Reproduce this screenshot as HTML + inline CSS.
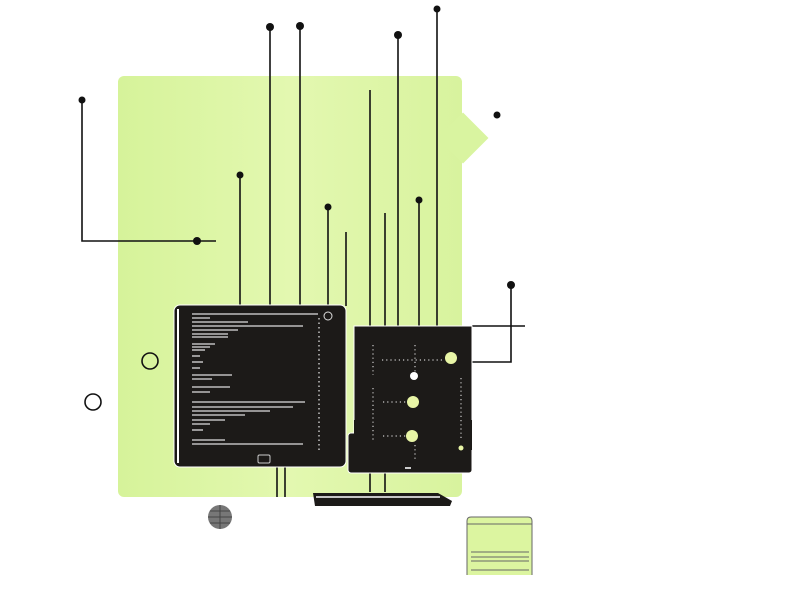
<!DOCTYPE html>
<html><head><style>body{margin:0;background:#fff}svg{display:block}</style></head><body>
<svg width="800" height="600" viewBox="0 0 800 600" xmlns="http://www.w3.org/2000/svg">
<defs><linearGradient id="g" x1="0" x2="1"><stop offset="0" stop-color="#d6f39a"/><stop offset="0.5" stop-color="#e3f8b0"/><stop offset="1" stop-color="#d8f39e"/></linearGradient></defs>
<rect x="118" y="76" width="344" height="421" rx="6" fill="url(#g)"/>
<rect x="445" y="120" width="36" height="36" fill="#d9f4a0" transform="rotate(45 463 138)"/>
<g stroke="#111" stroke-width="1.6" fill="none">
<line x1="270" y1="27" x2="270" y2="306"/>
<line x1="300" y1="26" x2="300" y2="306"/>
<line x1="398" y1="35" x2="398" y2="326"/>
<line x1="437" y1="9" x2="437" y2="326"/>
<line x1="240" y1="175" x2="240" y2="306"/>
<line x1="328" y1="207" x2="328" y2="306"/>
<line x1="370" y1="90" x2="370" y2="492"/>
<line x1="346" y1="232" x2="346" y2="306"/>
<line x1="385" y1="213" x2="385" y2="492"/>
<line x1="419" y1="200" x2="419" y2="326"/>
<line x1="277" y1="466" x2="277" y2="497"/>
<line x1="285" y1="466" x2="285" y2="497"/>
<polyline points="82,100 82,241 216,241"/>
<polyline points="511,285 511,362 472,362"/>
<line x1="472" y1="326" x2="525" y2="326"/>
<circle cx="150" cy="361" r="8"/>
<circle cx="93" cy="402" r="8"/>
</g>
<g fill="#111">
<circle cx="270" cy="27" r="4"/><circle cx="300" cy="26" r="4"/><circle cx="398" cy="35" r="4"/><circle cx="437" cy="9" r="3.5"/>
<circle cx="240" cy="175" r="3.5"/><circle cx="328" cy="207" r="3.5"/><circle cx="419" cy="200" r="3.5"/>
<circle cx="82" cy="100" r="3.5"/><circle cx="197" cy="241" r="4"/><circle cx="511" cy="285" r="4"/><circle cx="497" cy="115" r="3.5"/>
</g>
<rect x="174" y="305" width="172" height="162" rx="6" fill="#1c1a18" stroke="#fff" stroke-width="1"/>
<path d="M178 309 v154" stroke="#fff" stroke-width="2"/>
<g stroke="#ddd" stroke-width="1.3">
<line x1="192" y1="314" x2="318" y2="314"/>
<line x1="192" y1="318" x2="210" y2="318"/><line x1="192" y1="322" x2="248" y2="322"/><line x1="192" y1="326" x2="303" y2="326"/><line x1="192" y1="330" x2="238" y2="330"/><line x1="192" y1="334" x2="228" y2="334"/><line x1="192" y1="337" x2="228" y2="337"/>
<line x1="192" y1="344" x2="215" y2="344"/><line x1="192" y1="347" x2="210" y2="347"/><line x1="192" y1="350" x2="205" y2="350"/><line x1="192" y1="356" x2="200" y2="356"/><line x1="192" y1="362" x2="203" y2="362"/><line x1="192" y1="368" x2="200" y2="368"/>
<line x1="192" y1="375" x2="232" y2="375"/><line x1="192" y1="379" x2="212" y2="379"/><line x1="192" y1="387" x2="230" y2="387"/><line x1="192" y1="392" x2="210" y2="392"/>
<line x1="192" y1="402" x2="305" y2="402"/><line x1="192" y1="407" x2="293" y2="407"/><line x1="192" y1="411" x2="270" y2="411"/><line x1="192" y1="415" x2="245" y2="415"/><line x1="192" y1="420" x2="225" y2="420"/><line x1="192" y1="424" x2="210" y2="424"/><line x1="192" y1="430" x2="203" y2="430"/>
<line x1="192" y1="444" x2="303" y2="444"/><line x1="192" y1="440" x2="225" y2="440"/>
<line x1="319" y1="318" x2="319" y2="450" stroke-dasharray="1.5 3"/>
</g>
<circle cx="328" cy="316" r="4" fill="none" stroke="#ddd"/>
<rect x="258" y="455" width="12" height="8" rx="1.5" fill="none" stroke="#ccc"/>
<rect x="354" y="326" width="118" height="110" fill="#1c1a18" stroke="#fff"/>
<rect x="348" y="433" width="124" height="40" rx="3" fill="#1c1a18" stroke="#fff"/>
<rect x="354" y="420" width="118" height="30" fill="#1c1a18"/>
<g stroke="#ccc" stroke-width="1.2" stroke-dasharray="1.2 3">
<line x1="373" y1="345" x2="373" y2="375"/><line x1="373" y1="388" x2="373" y2="440"/>
<line x1="415" y1="345" x2="415" y2="380"/><line x1="415" y1="445" x2="415" y2="460"/>
<line x1="382" y1="360" x2="445" y2="360"/><line x1="383" y1="402" x2="407" y2="402"/><line x1="383" y1="436" x2="407" y2="436"/>
<line x1="461" y1="378" x2="461" y2="440"/>
</g>
<g fill="#e8f5a6"><circle cx="451" cy="358" r="6"/><circle cx="413" cy="402" r="6"/><circle cx="412" cy="436" r="6"/><circle cx="461" cy="448" r="2.5"/><circle cx="414" cy="376" r="4" fill="#fff"/></g>
<rect x="405" y="467" width="6" height="2" fill="#ccc"/>
<path d="M313 493 H438 L452 501 L450 506 H315 Z" fill="#1c1a18"/>
<path d="M316 497 H440" stroke="#fff" stroke-width="1.5"/>
<circle cx="220" cy="517" r="12" fill="#777"/>
<g stroke="#444" stroke-width="1"><line x1="208" y1="517" x2="232" y2="517"/><line x1="220" y1="505" x2="220" y2="529"/><line x1="210" y1="511" x2="230" y2="511"/><line x1="210" y1="523" x2="230" y2="523"/></g>
<path d="M467 575 V521 q0 -4 4 -4 H528 q4 0 4 4 V575" fill="#dcf5a0" stroke="#666" stroke-width="1"/>
<g stroke="#666" stroke-width="1"><line x1="467" y1="524" x2="532" y2="524"/><line x1="471" y1="552" x2="529" y2="552"/><line x1="471" y1="557" x2="529" y2="557"/><line x1="471" y1="561" x2="529" y2="561"/><line x1="471" y1="570" x2="529" y2="570"/></g>
</svg>
</body></html>
